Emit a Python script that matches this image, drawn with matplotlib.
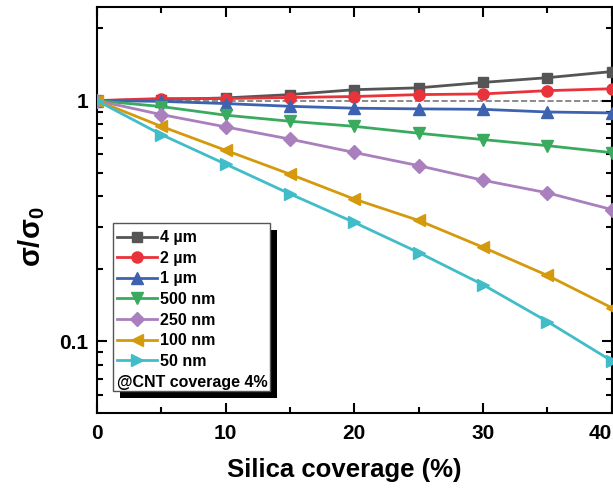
import numpy as np
import matplotlib.pyplot as plt
import matplotlib.patheffects as pe
from matplotlib.patches import Rectangle
from matplotlib.ticker import LogLocator, NullFormatter, FixedLocator, FixedFormatter

plt.rcParams['font.family'] = ['Liberation Sans', 'DejaVu Sans']
plt.rcParams['font.weight'] = 'bold'
plt.rcParams['mathtext.fontset'] = 'custom'
plt.rcParams['mathtext.bf'] = 'Liberation Sans:bold'
plt.rcParams['mathtext.rm'] = 'Liberation Sans:bold'

# Datos
coverage = [0, 5, 10, 15, 20, 25, 30, 35, 40]
s_4um = [1.0, 1.01, 1.026, 1.059, 1.11, 1.13, 1.19, 1.245, 1.32]
s_2um = [1.0, 1.02, 1.02, 1.03, 1.04, 1.059, 1.066, 1.10, 1.12]
s_1um = [1.0, 0.993, 0.972, 0.947, 0.93, 0.924, 0.92, 0.897, 0.889]
s_500nm = [1.0, 0.945, 0.87, 0.821, 0.782, 0.732, 0.689, 0.65, 0.608]
s_250nm = [1.0, 0.875, 0.778, 0.692, 0.609, 0.537, 0.467, 0.414, 0.353]
s_100nm = [1.0, 0.782, 0.622, 0.495, 0.39, 0.318, 0.246, 0.188, 0.138]
s_50nm = [1.0, 0.723, 0.545, 0.41, 0.312, 0.234, 0.172, 0.121, 0.083]

labels = ['4 µm', '2 µm', '1 µm', '500 nm', '250 nm', '100 nm', '50 nm']
series = [s_4um, s_2um, s_1um, s_500nm, s_250nm, s_100nm, s_50nm]
colors = ['#555555', '#e8333b', '#3d62b0', '#3aaa5e', '#a97fbd', '#d49a0c', '#40bdc8']
markers = ['s', 'o', '^', 'v', 'D', '<', '>']
msizes = [7, 8, 8, 8, 7, 8, 8]

fig = plt.figure(figsize=(6.13, 4.91), dpi=100)
ax = fig.add_axes([0.158, 0.159, 0.84, 0.827])

ax.plot([0, 40], [1, 1], '--', color='#777777', lw=1.2, zorder=1)
for y, lab, c, m, ms in zip(series, labels, colors, markers, msizes):
    ax.plot(coverage, y, color=c, marker=m, ms=ms, lw=2, label=lab, zorder=3)

ax.set_yscale('log')
ax.set_xlim(0, 40)
ax.set_ylim(0.0505, 2.45)

ax.xaxis.set_major_locator(FixedLocator([0, 10, 20, 30, 40]))
ax.xaxis.set_minor_locator(FixedLocator([5, 15, 25, 35]))
ax.yaxis.set_major_locator(FixedLocator([0.1, 1]))
ax.yaxis.set_major_formatter(FixedFormatter(['0.1', '1']))
ax.yaxis.set_minor_locator(LogLocator(base=10, subs=np.arange(2, 10)))
ax.yaxis.set_minor_formatter(NullFormatter())

ax.tick_params(which='both', direction='in', top=True, right=True, width=1.5, labelsize=15)
ax.tick_params(which='major', length=7)
ax.tick_params(which='minor', length=4)
ax.tick_params(axis='x', pad=8)
ax.tick_params(axis='y', pad=6)
for sp in ax.spines.values():
    sp.set_linewidth(1.5)

fig.canvas.draw()
ax.get_xticklabels()[-1].set_horizontalalignment('right')

ax.set_xlabel('Silica coverage (%)', fontsize=18.5, fontweight='bold')
ax.xaxis.set_label_coords(0.48, -0.11)
ax.set_ylabel(r'$\mathbf{σ/σ_0}$', fontsize=21)
ax.yaxis.set_label_coords(-0.097, 0.433)

# caja de la leyenda con sombra
box = Rectangle((0.031, 0.054), 0.305, 0.414, transform=ax.transAxes, facecolor='white',
                edgecolor='#555555', lw=1.0, zorder=5)
box.set_path_effects([pe.SimplePatchShadow(offset=(5, -5), shadow_rgbFace='k', alpha=1), pe.Normal()])
ax.add_patch(box)

leg = ax.legend(loc='upper left', bbox_to_anchor=(0.033, 0.458), borderaxespad=0,
                frameon=False, fontsize=11.5, handlelength=2.5, handletextpad=0.2,
                labelspacing=0.35, borderpad=0.2)
leg.set_zorder(6)
ax.text(0.039, 0.076, '@CNT coverage 4%', transform=ax.transAxes, fontsize=11.5,
        fontweight='bold', va='center', ha='left', zorder=6)

fig.savefig('out.png', dpi=100)
